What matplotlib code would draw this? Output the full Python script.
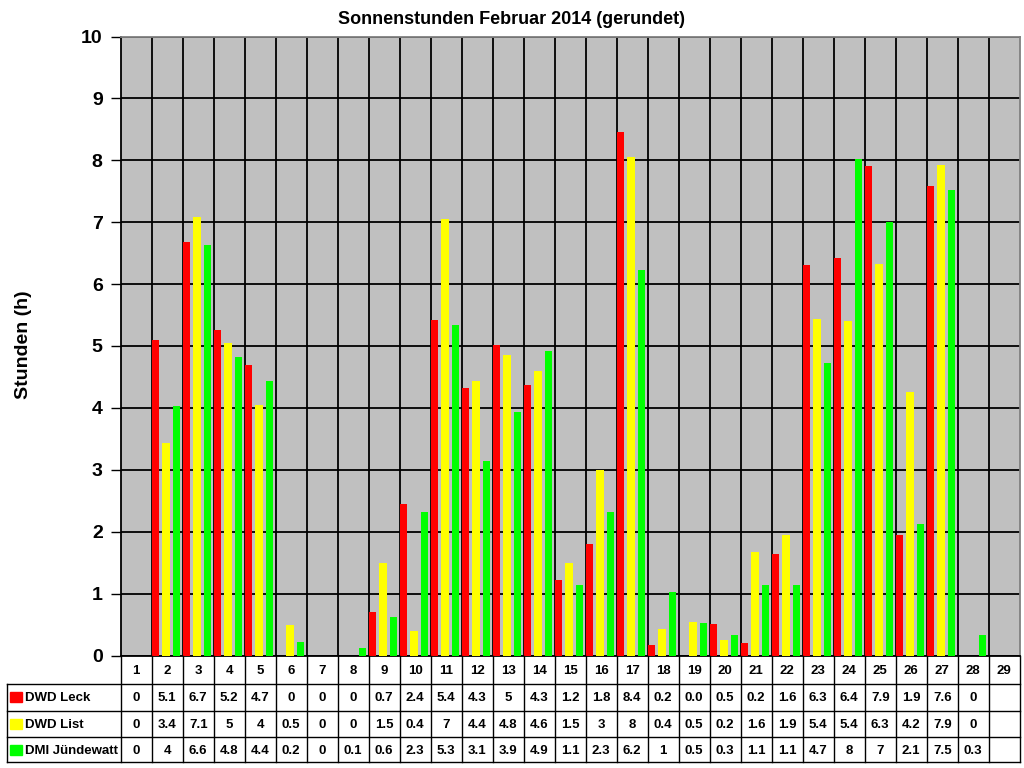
import matplotlib
matplotlib.use('Agg')
import matplotlib.pyplot as plt
import numpy as np

plt.rcParams['font.family'] = ['Liberation Sans', 'DejaVu Sans']
plt.rcParams['font.weight'] = 'bold'

# Tage im Februar (29 Spalten wie im Original)
days = [str(d) for d in range(1, 30)]
series_names = ['DWD Leck', 'DWD List', 'DMI Jündewatt']
series_colors = ['#FF0000', '#FFFF00', '#00FF00']

# Balkenhöhen
leck = [0, 5.10, 6.68, 5.26, 4.69, 0, 0, 0, 0.70, 2.45, 5.42, 4.32, 5.02, 4.37, 1.22,
        1.80, 8.46, 0.17, 0.0, 0.51, 0.20, 1.64, 6.31, 6.42, 7.91, 1.95, 7.58, 0, 0]
list_ = [0, 3.43, 7.08, 5.05, 4.05, 0.49, 0, 0, 1.49, 0.40, 7.05, 4.43, 4.85, 4.60, 1.49,
         3.00, 8.05, 0.43, 0.54, 0.25, 1.67, 1.95, 5.44, 5.40, 6.32, 4.26, 7.92, 0, 0]
juendewatt = [0, 4.03, 6.63, 4.82, 4.43, 0.22, 0, 0.12, 0.62, 2.32, 5.34, 3.14, 3.93, 4.92, 1.14,
              2.32, 6.23, 1.03, 0.52, 0.33, 1.14, 1.14, 4.73, 8.02, 7.00, 2.12, 7.52, 0.33, 0]

# Werte in der Tabelle (gerundet)
leck_txt = ['0', '5.1', '6.7', '5.2', '4.7', '0', '0', '0', '0.7', '2.4', '5.4', '4.3', '5', '4.3', '1.2',
            '1.8', '8.4', '0.2', '0.0', '0.5', '0.2', '1.6', '6.3', '6.4', '7.9', '1.9', '7.6', '0', '']
list_txt = ['0', '3.4', '7.1', '5', '4', '0.5', '0', '0', '1.5', '0.4', '7', '4.4', '4.8', '4.6', '1.5',
            '3', '8', '0.4', '0.5', '0.2', '1.6', '1.9', '5.4', '5.4', '6.3', '4.2', '7.9', '0', '']
juende_txt = ['0', '4', '6.6', '4.8', '4.4', '0.2', '0', '0.1', '0.6', '2.3', '5.3', '3.1', '3.9', '4.9', '1.1',
              '2.3', '6.2', '1', '0.5', '0.3', '1.1', '1.1', '4.7', '8', '7', '2.1', '7.5', '0.3', '']

W, H = 1024, 768
fig = plt.figure(figsize=(W / 100, H / 100), dpi=100)

# Pixelgeometrie
x0, x1 = 120.7, 1019.7
y_top, y_zero = 36.5, 655.5
ax = fig.add_axes([x0 / W, 1 - y_zero / H, (x1 - x0) / W, (y_zero - y_top) / H])
ax.set_facecolor('#C0C0C0')

n = len(days)
idx = np.arange(n)
bw = 0.235
offsets = [-0.38, -0.04, 0.30]
for vals, off, col in zip([leck, list_, juendewatt], offsets, series_colors):
    ax.bar(idx + off, vals, bw, color=col, zorder=3)

ax.set_xlim(-0.5, n - 0.5)
ax.set_ylim(0, 10)
ax.set_xticks([])
ax.set_xticks(np.arange(0.5, n - 0.5, 1), minor=True)
ax.tick_params(axis='x', which='both', length=0, labelbottom=False)
ax.set_yticks(range(0, 11))
ax.tick_params(axis='y', length=7, width=1, direction='out', pad=6, labelsize=14)
for lab in ax.get_yticklabels():
    lab.set_fontweight('bold')
ax.grid(axis='y', which='major', color='black', linewidth=1.3, zorder=1)
ax.grid(axis='x', which='minor', color='black', linewidth=1.3, zorder=1)
ax.set_axisbelow(True)
ax.spines['left'].set_color('black')
ax.spines['bottom'].set_color('black')
ax.spines['top'].set_color('#808080')
ax.spines['right'].set_color('#808080')
for s in ax.spines.values():
    s.set_linewidth(1.3)

fig.text(511 / W, 1 - 20 / H, 'Sonnenstunden Februar 2014 (gerundet)',
         ha='center', va='center', fontsize=13, fontweight='bold')
fig.text(23.8 / W, 1 - 345 / H, 'Stunden (h)', rotation=90,
         ha='center', va='center', fontsize=14, fontweight='bold')

# Datentabelle
tx0, ty1 = 6.7, 762.0
tax = fig.add_axes([tx0 / W, 1 - ty1 / H, (x1 - tx0) / W, (ty1 - y_zero) / H])
tax.set_axis_off()
left_unit = -0.5 - (x0 - tx0) / 31.0
tax.set_xlim(left_unit, n - 0.5)
tax.set_ylim(ty1, y_zero)

row_edges = [655.5, 684.0, 710.5, 737.0, 762.0]
lw = 1.0
# senkrechte Linien
for k in range(n + 1):
    tax.plot([k - 0.5, k - 0.5], [row_edges[0], row_edges[-1]], color='black', lw=lw, clip_on=False)
tax.plot([left_unit, left_unit], [row_edges[1], row_edges[-1]], color='black', lw=lw, clip_on=False)
# waagerechte Linien
for y in row_edges[1:]:
    tax.plot([left_unit, n - 0.5], [y, y], color='black', lw=lw, clip_on=False)

hy = (row_edges[0] + row_edges[1]) / 2
for k, d in enumerate(days):
    tax.text(k, hy + 1, d, ha='center', va='center', fontsize=9.5, fontweight='bold')

px = 31.0
for r, (name, col, txts) in enumerate(zip(series_names, series_colors,
                                            [leck_txt, list_txt, juende_txt])):
    cy = (row_edges[r + 1] + row_edges[r + 2]) / 2
    kx = left_unit + (10 - tx0) / px
    tax.add_patch(plt.Rectangle((kx, cy - 5), 12 / px, 10, color=col, clip_on=False))
    tax.text(left_unit + (25 - tx0) / px, cy + 1, name, ha='left', va='center',
             fontsize=9.5, fontweight='bold')
    for k, t in enumerate(txts):
        tax.text(k, cy + 1, t, ha='center', va='center', fontsize=9.5, fontweight='bold')

fig.savefig('out.png', dpi=100)
